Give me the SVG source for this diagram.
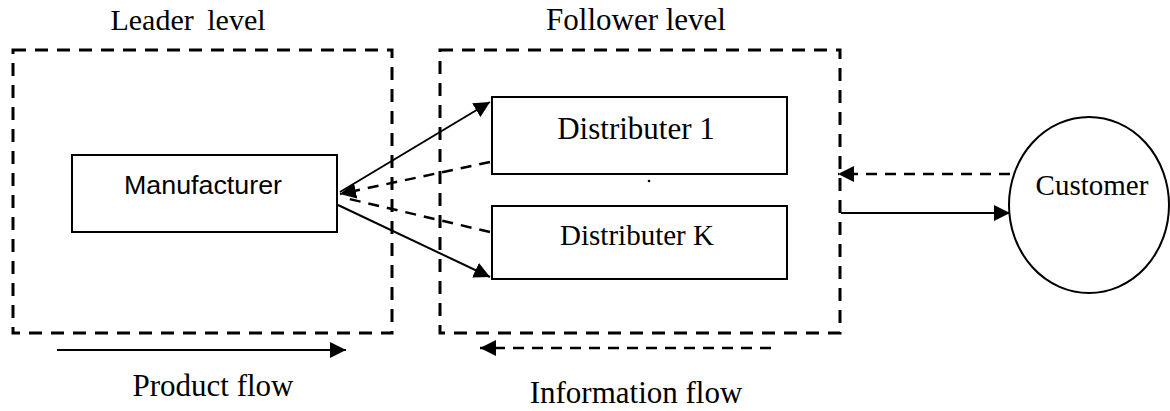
<svg xmlns="http://www.w3.org/2000/svg" width="1170" height="411" viewBox="0 0 1170 411">
<style>
.serif{font-family:"Liberation Serif","Times New Roman",serif;fill:#000}
.sans{font-family:"Liberation Sans",Arial,sans-serif;fill:#000}
.level{fill:none;stroke:#000;stroke-width:3;stroke-dasharray:13 9}
.box{fill:#fff;stroke:#000;stroke-width:2}
.solid{fill:none;stroke:#000;stroke-width:2}
.dash{fill:none;stroke:#000;stroke-width:2.5;stroke-dasharray:11 8}
</style>
<defs>
<marker id="ahb" viewBox="0 0 10 10" refX="10" refY="5" markerWidth="16" markerHeight="16" orient="auto" markerUnits="userSpaceOnUse">
<path d="M0,0 L10,5 L0,10 z" fill="#000"/>
</marker>
</defs>
<g id="leader-level">
<rect class="level" x="13" y="50" width="379" height="283"/>
<text class="serif" x="188" y="30" font-size="30" text-anchor="middle" word-spacing="6">Leader level</text>
</g>
<g id="follower-level">
<rect class="level" x="440" y="50" width="400" height="283"/>
<text class="serif" x="636" y="30" font-size="31" text-anchor="middle">Follower level</text>
</g>
<g id="manufacturer">
<rect class="box" x="72" y="155" width="265" height="77"/>
<text class="sans" x="203" y="194" font-size="25" text-anchor="middle" textLength="158" lengthAdjust="spacingAndGlyphs">Manufacturer</text>
</g>
<g id="distributer-1">
<rect class="box" x="492" y="97" width="295" height="77"/>
<text class="serif" x="636" y="139" font-size="31" text-anchor="middle">Distributer 1</text>
</g>
<circle id="ellipsis-dot" cx="649" cy="181" r="1.3" fill="#000"/>
<g id="distributer-k">
<rect class="box" x="492" y="206" width="295" height="73"/>
<text class="serif" x="637" y="245" font-size="29" text-anchor="middle">Distributer K</text>
</g>
<g id="customer">
<ellipse cx="1089" cy="205" rx="80" ry="88" fill="#fff" stroke="#000" stroke-width="2"/>
<text class="serif" x="1092" y="195" font-size="29" text-anchor="middle">Customer</text>
</g>
<g id="connectors">
<line class="solid" x1="340" y1="192" x2="490" y2="102" marker-end="url(#ahb)"/>
<line class="dash" x1="490" y1="162" x2="340" y2="194" marker-end="url(#ahb)"/>
<line class="dash" x1="490" y1="232" x2="345" y2="198"/>
<line class="solid" x1="338" y1="205" x2="490" y2="277" marker-end="url(#ahb)"/>
<line class="dash" x1="1010" y1="174" x2="838" y2="174" marker-end="url(#ahb)"/>
<line class="solid" x1="841" y1="213" x2="1010" y2="213" marker-end="url(#ahb)"/>
</g>
<g id="legend">
<line class="solid" x1="57" y1="350" x2="346" y2="350" marker-end="url(#ahb)"/>
<text class="serif" x="213" y="396" font-size="31" text-anchor="middle">Product flow</text>
<line class="dash" x1="771" y1="348" x2="480" y2="348" marker-end="url(#ahb)"/>
<text class="serif" x="636" y="403" font-size="31" text-anchor="middle">Information flow</text>
</g>
</svg>
